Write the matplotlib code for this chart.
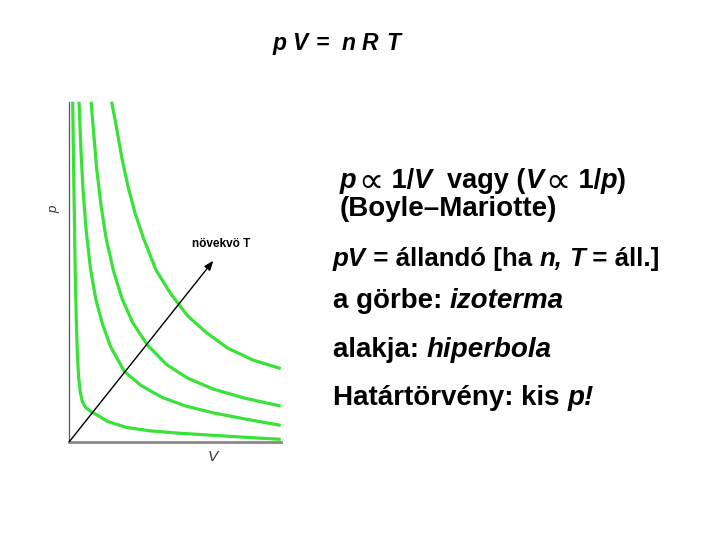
import matplotlib
matplotlib.use("Agg")
import matplotlib.pyplot as plt
from matplotlib.transforms import IdentityTransform

# ---- data (axis units 0..10) ----
c1_V = [0.16, 0.2, 0.24, 0.28, 0.33, 0.38, 0.44, 0.52, 0.62, 0.78, 1.0, 1.3, 1.8, 2.7, 3.8, 5.2, 7.0, 8.6, 10.0]
c1_p = [10.0, 8.2, 6.6, 5.0, 3.6, 2.6, 1.9, 1.45, 1.17, 1.0, 0.9, 0.79, 0.6, 0.42, 0.32, 0.25, 0.18, 0.12, 0.07]
c2_V = [0.46, 0.55, 0.65, 0.8, 1.0, 1.25, 1.55, 1.95, 2.6, 3.4, 4.4, 5.5, 6.8, 8.3, 10.0]
c2_p = [10.0, 8.6, 7.4, 6.2, 5.1, 4.2, 3.5, 2.8, 2.07, 1.65, 1.3, 1.05, 0.85, 0.67, 0.48]
c3_V = [1.03, 1.15, 1.3, 1.5, 1.75, 2.1, 2.5, 3.0, 3.7, 4.6, 5.6, 6.8, 8.3, 10.0]
c3_p = [10.0, 9.1, 8.0, 6.95, 5.95, 5.0, 4.2, 3.5, 2.84, 2.27, 1.87, 1.55, 1.28, 1.05]
c4_V = [2.0, 2.2, 2.5, 2.8, 3.1, 3.5, 4.1, 4.8, 5.6, 6.5, 7.5, 8.7, 10.0]
c4_p = [10.0, 9.35, 8.3, 7.45, 6.75, 6.0, 5.05, 4.35, 3.7, 3.2, 2.75, 2.4, 2.15]
curves = [(c1_V, c1_p), (c2_V, c2_p), (c3_V, c3_p), (c4_V, c4_p)]
arrow_tip = (6.81, 5.32)

title_chars = ["p", "V", "=", "n", "R", "T"]
arrow_label = "növekvö T"
xlabel = "V"
ylabel = "p"

W, H = 720, 540
fig = plt.figure(figsize=(7.2, 5.4), dpi=100)
fig.patch.set_facecolor("white")

ax = fig.add_axes([69.3 / W, (H - 441.7) / H, 211.4 / W, 340 / H])
ax.set_xlim(0, 10)
ax.set_ylim(0, 10)
ax.set_facecolor("none")
for s in ["top", "right"]:
    ax.spines[s].set_visible(False)
ax.spines["left"].set_color("#555555")
ax.spines["left"].set_linewidth(0.9)
ax.spines["bottom"].set_color("#8a8a8a")
ax.spines["bottom"].set_linewidth(2.0)
ax.set_xticks([])
ax.set_yticks([])

for V, p in curves:
    ax.plot(V, p, color="#38e238", lw=2.3, solid_joinstyle="round",
            solid_capstyle="butt", clip_on=False)

ax.annotate("", xy=arrow_tip, xytext=(0, 0),
            arrowprops=dict(arrowstyle="-|>,head_length=0.55,head_width=0.22",
                            color="black", lw=1.0, shrinkA=0, shrinkB=0))

px = IdentityTransform()


def ptext(x, y, s, **kw):
    return fig.text(x, H - y, s, transform=px, **kw)


ptext(192, 247, arrow_label, fontsize=8.5, fontweight="bold",
      family="Liberation Sans", va="baseline", ha="left")
ptext(54, 209, ylabel, fontsize=9.5, fontstyle="italic", family="Liberation Sans",
      rotation=90, va="center", ha="center", color="#333333")
ptext(213, 457, xlabel, fontsize=11, fontstyle="italic", family="Liberation Sans",
      va="center", ha="center", color="#333333")

# title
title_x = [272, 292, 316, 342, 362, 386]
for c, x in zip(title_chars, title_x):
    ptext(x, 50, c, fontsize=16.5, fontweight="bold", fontstyle="italic",
          family="Liberation Sans", va="baseline", ha="left")

renderer = fig.canvas.get_renderer()


def runs(x, y, parts, size=20):
    for s, style in parts:
        kw = dict(fontsize=size, fontweight="bold", family=["Liberation Sans", "DejaVu Sans"],
                  va="baseline", ha="left")
        yy = y
        if style == "i":
            kw["fontstyle"] = "italic"
        elif style == "sym":
            kw["fontweight"] = "normal"
            kw["family"] = ["DejaVu Sans"]
            kw["fontsize"] = size * 1.3
            yy = y + 3.5
            x += 2
        t = ptext(x, yy, s, **kw)
        x += t.get_window_extent(renderer).width


runs(340, 188, [("p", "i"), ("∝", "sym"), (" 1/", "n"), ("V", "i"),
                ("  vagy (", "n"), ("V", "i"), ("∝", "sym"), (" 1/", "n"),
                ("p", "i"), (")", "n")], size=19.5)
runs(340, 216.5, [("(Boyle–Mariotte)", "n")])
runs(333, 266, [("pV", "i"), (" = állandó [ha ", "n"), ("n,", "i"), (" ", "n"),
                ("T", "i"), (" = áll.]", "n")], size=18.6)
runs(333, 308, [("a görbe: ", "n"), ("izoterma", "i")])
runs(333, 357, [("alakja: ", "n"), ("hiperbola", "i")])
runs(333, 405, [("Határtörvény: kis ", "n"), ("p!", "i")])

fig.savefig("out.png", dpi=100)
